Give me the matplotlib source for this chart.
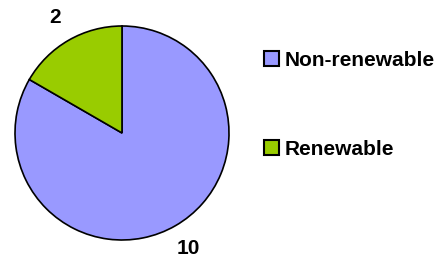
import matplotlib
matplotlib.use("Agg")
import matplotlib.pyplot as plt
from matplotlib.patches import Patch

categories = ["Non-renewable", "Renewable"]
values = [10, 2]
colors = ["#9999FF", "#99CC00"]

plt.rcParams['font.family'] = ['Liberation Sans', 'DejaVu Sans']

W, H = 445, 257
fig = plt.figure(figsize=(W / 100, H / 100), dpi=100)
cx, cy, r = 122, 133, 107
ax = fig.add_axes([(cx - r) / W, (H - cy - r) / H, 2 * r / W, 2 * r / H])
total = sum(values)
wedges, texts, autotexts = ax.pie(
    values, colors=colors, startangle=90, counterclock=False,
    wedgeprops=dict(edgecolor="black", linewidth=1.2),
    autopct=lambda p: f"{round(p * total / 100):d}", pctdistance=1.245,
    textprops=dict(fontsize=15, fontweight="bold", color="black"))
for w in wedges:
    w.set_clip_on(False)
ax.set_xlim(-1, 1)
ax.set_ylim(-1, 1)
ax.set_aspect("equal")

handles = [Patch(facecolor=c, edgecolor="black", linewidth=1.5) for c in colors]
leg = fig.legend(handles, categories, loc="upper left",
                 bbox_to_anchor=(264 / W, 1 - 51 / H), frameon=False,
                 prop=dict(size=15, weight="bold"), handlelength=0.72,
                 handleheight=0.72, handletextpad=0.25, labelspacing=3.35,
                 borderpad=0, borderaxespad=0)
fig.savefig("out.png", dpi=100)
